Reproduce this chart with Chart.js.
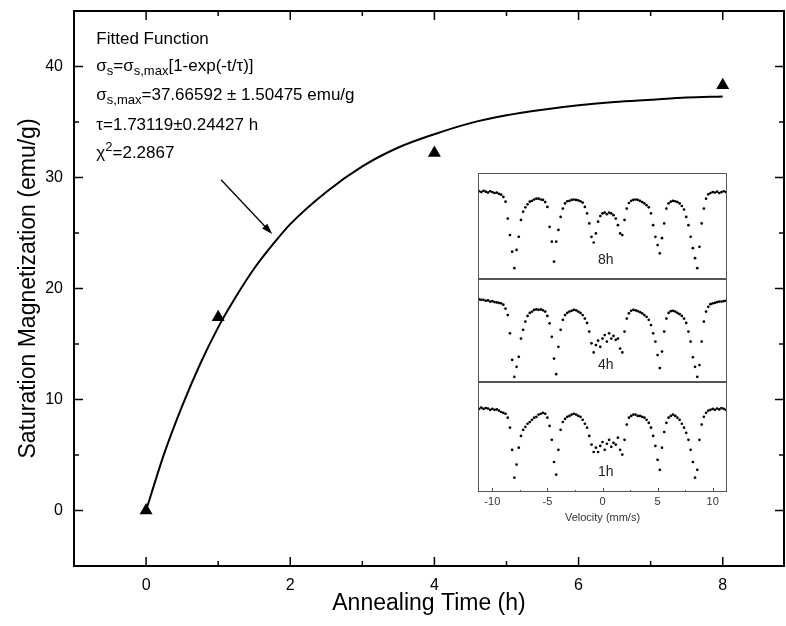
<!DOCTYPE html>
<html>
<head>
<meta charset="utf-8">
<script src="https://cdn.jsdelivr.net/npm/chart.js@4.4.1/dist/chart.umd.min.js"></script>
<style>
  body { margin: 0; background: #fff; }
  #wrap { position: relative; width: 786px; height: 626px; }
  canvas { position: absolute; }
</style>
</head>
<body>
<div id="wrap">
  <canvas id="main" width="786" height="626" style="left:0;top:0"></canvas>
  <canvas id="in8" width="266" height="106" style="left:470px;top:173px"></canvas>
  <canvas id="in4" width="266" height="103" style="left:470px;top:279px"></canvas>
  <canvas id="in1" width="266" height="148" style="left:470px;top:382px"></canvas>
</div>
<script>
"use strict";

const FONT = '"Liberation Sans", Arial, Helvetica, sans-serif';
Chart.defaults.font.family = FONT;
Chart.defaults.color = "#000";

// main plot: measured points
const annealTime = [0, 1, 4, 8];
const saturation = [0, 17.4, 32.2, 38.3];

// fitted curve
const fitTime = [0, 0.25, 0.5, 0.75, 1, 1.25, 1.5, 1.75, 2, 2.5, 3, 3.5, 4, 4.5, 5, 5.5, 6, 6.5, 7, 7.5, 8];
const fitSigma = [0, 5.1, 9.4, 13.2, 16.5, 19.3, 21.8, 23.9, 25.8, 28.7, 31.0, 32.7, 33.9, 34.9, 35.6, 36.1, 36.5, 36.8, 37.0, 37.2, 37.3];

const xTicks = [0, 2, 4, 6, 8];
const xMinor = [1, 3, 5, 7];
const yTicks = [0, 10, 20, 30, 40];
const yMinor = [5, 15, 25, 35];

// inset: Mossbauer spectra (relative transmission x1000)
const velocity = [-11.2,-11,-10.8,-10.6,-10.4,-10.2,-10,-9.8,-9.6,-9.4,
  -9.2,-9,-8.8,-8.6,-8.4,-8.2,-8,-7.8,-7.6,-7.4,
  -7.2,-7,-6.8,-6.6,-6.4,-6.2,-6,-5.8,-5.6,-5.4,
  -5.2,-5,-4.8,-4.6,-4.4,-4.2,-4,-3.8,-3.6,-3.4,
  -3.2,-3,-2.8,-2.6,-2.4,-2.2,-2,-1.8,-1.6,-1.4,
  -1.2,-1,-0.8,-0.6,-0.4,-0.2,0,0.2,0.4,0.6,
  0.8,1,1.2,1.4,1.6,1.8,2,2.2,2.4,2.6,
  2.8,3,3.2,3.4,3.6,3.8,4,4.2,4.4,4.6,
  4.8,5,5.2,5.4,5.6,5.8,6,6.2,6.4,6.6,
  6.8,7,7.2,7.4,7.6,7.8,8,8.2,8.4,8.6,
  8.8,9,9.2,9.4,9.6,9.8,10,10.2,10.4,10.6,
  10.8,11,11.2];

const spec8h = [1002,1000,1003,1001,999,1002,1000,998,999,996,
  994,989,978,939,901,863,825,867,897,936,
  955,965,972,978,980,983,985,985,983,982,
  977,966,920,886,840,886,913,943,962,974,
  979,980,982,983,982,981,979,976,966,951,
  928,897,884,905,932,945,951,953,949,953,
  951,947,939,924,905,901,936,962,975,980,
  982,983,982,980,977,974,970,965,951,924,
  897,878,859,894,928,962,974,978,980,979,
  977,974,968,960,943,924,897,871,848,825,
  874,928,962,985,995,998,1000,999,1001,998,
  1000,1002,1000];

const spec4h = [1003,1002,1002,1000,1001,998,999,997,996,995,
  994,991,982,967,925,864,825,848,871,913,
  933,952,965,972,975,979,980,979,980,978,
  975,965,948,917,867,831,894,933,956,967,
  972,975,977,979,978,975,972,967,959,949,
  929,902,881,898,908,894,913,921,906,925,
  913,919,910,913,890,881,929,959,971,977,
  979,978,976,974,971,967,963,956,944,925,
  906,875,845,883,929,959,972,976,977,975,
  972,969,965,959,949,929,906,870,848,825,
  852,906,952,975,986,992,994,995,997,998,
  998,999,1000];

const spec1h = [1002,1005,1002,1004,1003,1000,1002,1000,1001,998,
  995,993,991,982,959,908,844,874,913,940,
  954,961,968,972,977,982,984,989,991,993,
  991,982,963,931,880,851,908,954,972,979,
  984,986,989,991,989,986,984,977,968,959,
  940,920,903,913,903,917,926,908,922,931,
  915,924,920,936,908,897,931,966,982,986,
  989,989,986,986,984,982,977,970,959,940,
  917,885,862,913,949,970,982,986,989,986,
  982,977,968,959,947,931,908,880,844,862,
  931,966,984,993,998,1000,1002,1000,1003,1001,
  1004,1002,1000];

const velTicks = [-10, -5, 0, 5, 10];
const velMinor = [-7.5, -2.5, 2.5, 7.5];

// fit text box, y = baseline in data units
const fitNotes = [
  { y: 42.0, runs: [{ t: "Fitted Function" }] },
  { y: 39.6, runs: [{ t: "σ" }, { t: "s", sub: 1 }, { t: "=σ" }, { t: "s,max", sub: 1 }, { t: "[1-exp(-t/τ)]" }] },
  { y: 37.0, runs: [{ t: "σ" }, { t: "s,max", sub: 1 }, { t: "=37.66592 ± 1.50475 emu/g" }] },
  { y: 34.3, runs: [{ t: "τ=1.73119±0.24427 h" }] },
  { y: 31.8, runs: [{ t: "χ" }, { t: "2", sup: 1 }, { t: "=2.2867" }] },
];
const noteX = -0.69;
const arrowFrom = [1.04, 29.8];
const arrowTo = [1.75, 24.9];

// drop the label overhang padding so the plot box lands where we want it
function noPad(s) {
  s.paddingTop = 0;
  s.paddingBottom = 0;
  s.paddingLeft = 0;
  s.paddingRight = 0;
}

function drawRuns(ctx, x, y, runs) {
  runs.forEach((r) => {
    const small = r.sub || r.sup;
    ctx.font = (small ? 13 : 17) + "px " + FONT;
    const dy = r.sub ? 4 : r.sup ? -7 : 0;
    ctx.fillText(r.t, x, y + dy);
    x += ctx.measureText(r.t).width;
  });
}

const mainDecor = {
  id: "mainDecor",
  afterDraw(chart) {
    const { ctx, chartArea: a, scales: { x, y } } = chart;
    ctx.save();
    ctx.strokeStyle = "#000";
    ctx.lineWidth = 2;
    ctx.strokeRect(a.left, a.top, a.right - a.left, a.bottom - a.top);

    // inward ticks on all four sides
    ctx.lineWidth = 1.5;
    ctx.beginPath();
    const xt = (v, len) => {
      const px = x.getPixelForValue(v);
      ctx.moveTo(px, a.bottom); ctx.lineTo(px, a.bottom - len);
      ctx.moveTo(px, a.top); ctx.lineTo(px, a.top + len);
    };
    const yt = (v, len) => {
      const py = y.getPixelForValue(v);
      ctx.moveTo(a.left, py); ctx.lineTo(a.left + len, py);
      ctx.moveTo(a.right, py); ctx.lineTo(a.right - len, py);
    };
    xTicks.forEach((v) => xt(v, 9));
    xMinor.forEach((v) => xt(v, 5));
    yTicks.forEach((v) => yt(v, 9));
    yMinor.forEach((v) => yt(v, 5));
    ctx.stroke();

    // fit text
    ctx.fillStyle = "#000";
    ctx.textAlign = "left";
    ctx.textBaseline = "alphabetic";
    const nx = x.getPixelForValue(noteX);
    fitNotes.forEach((n) => drawRuns(ctx, nx, y.getPixelForValue(n.y), n.runs));

    // arrow
    const x0 = x.getPixelForValue(arrowFrom[0]), y0 = y.getPixelForValue(arrowFrom[1]);
    const x1 = x.getPixelForValue(arrowTo[0]), y1 = y.getPixelForValue(arrowTo[1]);
    const ang = Math.atan2(y1 - y0, x1 - x0);
    ctx.lineWidth = 1.3;
    ctx.beginPath();
    ctx.moveTo(x0, y0);
    ctx.lineTo(x1 - 8 * Math.cos(ang), y1 - 8 * Math.sin(ang));
    ctx.stroke();
    ctx.beginPath();
    ctx.moveTo(x1, y1);
    ctx.lineTo(x1 - 11 * Math.cos(ang) + 3.5 * Math.sin(ang), y1 - 11 * Math.sin(ang) - 3.5 * Math.cos(ang));
    ctx.lineTo(x1 - 11 * Math.cos(ang) - 3.5 * Math.sin(ang), y1 - 11 * Math.sin(ang) + 3.5 * Math.cos(ang));
    ctx.closePath();
    ctx.fill();
    ctx.restore();
  },
};

new Chart(document.getElementById("main"), {
  type: "scatter",
  data: {
    datasets: [
      {
        data: fitTime.map((t, i) => ({ x: t, y: fitSigma[i] })),
        showLine: true,
        borderColor: "#000",
        borderWidth: 2,
        pointRadius: 0,
        cubicInterpolationMode: "monotone",
        fill: false,
      },
      {
        data: annealTime.map((t, i) => ({ x: t, y: saturation[i] })),
        pointStyle: "triangle",
        pointRadius: 7.5,
        pointBackgroundColor: "#000",
        pointBorderColor: "#000",
        pointBorderWidth: 0,
      },
    ],
  },
  options: {
    responsive: false,
    animation: false,
    devicePixelRatio: 1,
    layout: { autoPadding: false, padding: { top: 11, right: 2, left: 0, bottom: 0 } },
    plugins: { legend: { display: false }, tooltip: { enabled: false } },
    scales: {
      x: {
        type: "linear",
        min: -1,
        max: 8.85,
        afterBuildTicks: (s) => { s.ticks = xTicks.map((v) => ({ value: v })); },
        afterFit: (s) => { s.height = 60; noPad(s); },
        grid: { display: false, drawTicks: false },
        border: { display: false },
        ticks: { font: { size: 16 }, color: "#000", padding: 10, maxRotation: 0, autoSkip: false },
        title: { display: true, text: "Annealing Time (h)", font: { size: 23 }, color: "#000", padding: { top: 0, bottom: 9 } },
      },
      y: {
        type: "linear",
        min: -5,
        max: 45,
        afterBuildTicks: (s) => { s.ticks = yTicks.map((v) => ({ value: v })); },
        afterFit: (s) => { s.width = 74; noPad(s); },
        grid: { display: false, drawTicks: false },
        border: { display: false },
        ticks: { font: { size: 16 }, color: "#000", padding: 11 },
        title: { display: true, text: "Saturation Magnetization (emu/g)", font: { size: 23 }, color: "#000", padding: { top: 15, bottom: 0 } },
      },
    },
  },
  plugins: [mainDecor],
});

function inset(id, values, label, labelY, yMin, yMax, withAxis) {
  new Chart(document.getElementById(id), {
    type: "scatter",
    data: {
      datasets: [{
        data: velocity.map((v, i) => ({ x: v, y: values[i] })),
        pointRadius: 1.35,
        pointBackgroundColor: "#000",
        pointBorderWidth: 0,
      }],
    },
    options: {
      responsive: false,
      animation: false,
      devicePixelRatio: 1,
      layout: { autoPadding: false, padding: { left: 8, right: 9, top: 0, bottom: 0 } },
      plugins: { legend: { display: false }, tooltip: { enabled: false } },
      scales: {
        x: {
          type: "linear",
          min: -11.3,
          max: 11.3,
          display: withAxis,
          afterBuildTicks: (s) => { s.ticks = velTicks.map((v) => ({ value: v })); },
          afterFit: (s) => { s.height = withAxis ? 38 : 0; noPad(s); },
          grid: { display: false, drawTicks: false },
          border: { display: false },
          ticks: { font: { size: 11 }, color: "#333", padding: 3, maxRotation: 0, autoSkip: false },
          title: { display: true, text: "Velocity (mm/s)", font: { size: 11 }, color: "#333", padding: { top: 0, bottom: 5 } },
        },
        y: {
          type: "linear",
          min: yMin,
          max: yMax,
          display: false,
          afterFit: (s) => { s.width = 0; noPad(s); },
        },
      },
    },
    plugins: [{
      id: "panel",
      afterDraw(chart) {
        const { ctx, chartArea: a, scales: { x, y } } = chart;
        ctx.save();
        ctx.strokeStyle = "#555";
        ctx.lineWidth = 1;
        ctx.strokeRect(a.left + 0.5, a.top + 0.5, a.right - a.left - 1, a.bottom - a.top - 1);
        ctx.fillStyle = "#222";
        ctx.font = "14px " + FONT;
        ctx.textAlign = "center";
        ctx.textBaseline = "middle";
        ctx.fillText(label, x.getPixelForValue(0.3), y.getPixelForValue(labelY));
        if (withAxis) {
          ctx.beginPath();
          velTicks.forEach((v) => {
            const px = Math.round(x.getPixelForValue(v)) + 0.5;
            ctx.moveTo(px, a.bottom); ctx.lineTo(px, a.bottom - 4);
          });
          velMinor.forEach((v) => {
            const px = Math.round(x.getPixelForValue(v)) + 0.5;
            ctx.moveTo(px, a.bottom); ctx.lineTo(px, a.bottom - 2);
          });
          ctx.stroke();
        }
        ctx.restore();
      },
    }],
  });
}

inset("in8", spec8h, "8h", 844, 800, 1044, false);
inset("in4", spec4h, "4h", 852, 813, 1050, false);
inset("in1", spec1h, "1h", 857, 811, 1064, true);
</script>
</body>
</html>
